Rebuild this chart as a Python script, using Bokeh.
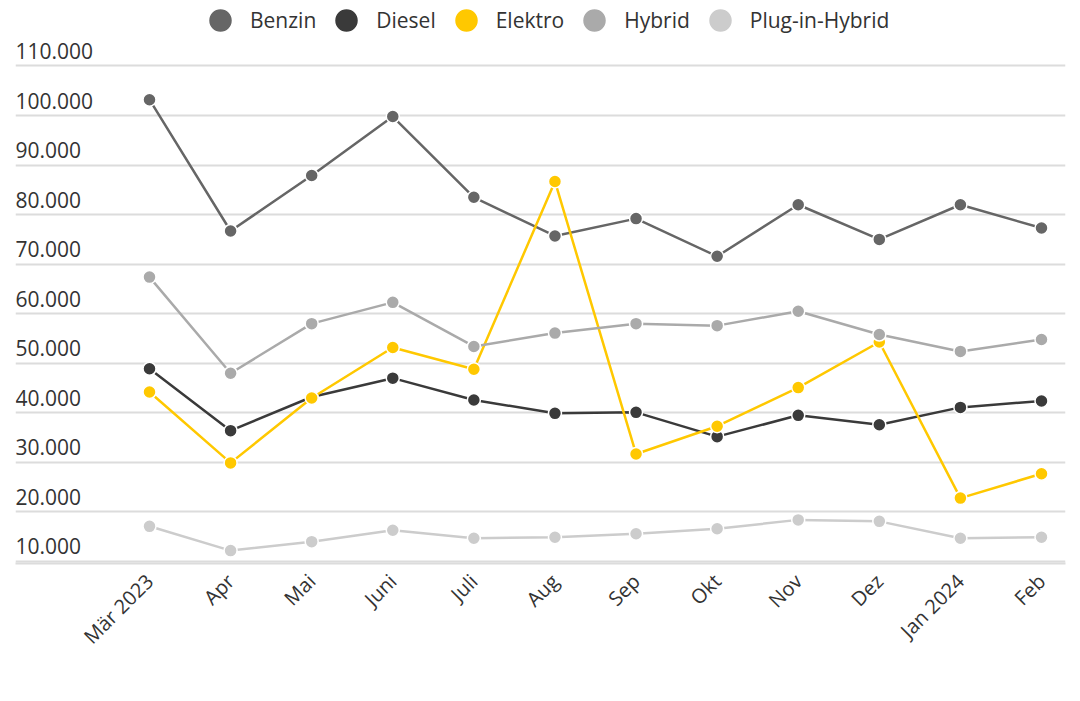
from math import pi
from bokeh.plotting import figure
from bokeh.models import FixedTicker, Label, Legend, LegendItem, Range1d, Grid
from bokeh.embed import file_html
from bokeh.resources import INLINE

# ---- data ----
months = ["Mär 2023", "Apr", "Mai", "Juni", "Juli", "Aug", "Sep", "Okt",
          "Nov", "Dez", "Jan 2024", "Feb"]
benzin = [103200, 76700, 87900, 99800, 83500, 75700, 79200, 71600, 82000, 75000, 82000, 77300]
diesel = [48900, 36400, 43200, 47000, 42600, 39900, 40100, 35200, 39500, 37600, 41100, 42400]
elektro = [44200, 29900, 43000, 53200, 48800, 86700, 31700, 37300, 45100, 54300, 22800, 27700]
hybrid = [67400, 48000, 58000, 62300, 53400, 56100, 58000, 57600, 60500, 55800, 52400, 54800]
plugin_hybrid = [17100, 12200, 14000, 16300, 14700, 14900, 15600, 16600, 18400, 18100, 14700, 14900]

series_names = ["Benzin", "Diesel", "Elektro", "Hybrid", "Plug-in-Hybrid"]
series_values = [benzin, diesel, elektro, hybrid, plugin_hybrid]
series_colors = ["#666666", "#3a3a3a", "#ffc800", "#aaaaaa", "#cccccc"]

y_ticks = [10000, 20000, 30000, 40000, 50000, 60000, 70000, 80000, 90000, 100000, 110000]
y_tick_labels = ["10.000", "20.000", "30.000", "40.000", "50.000", "60.000",
                 "70.000", "80.000", "90.000", "100.000", "110.000"]

FONT = "Open Sans"
TEXT = "#333333"

x_idx = list(range(len(months)))

p = figure(width=1072, height=692, output_backend="svg", toolbar_location=None,
           title=None, x_range=Range1d(-1.6525, 11.296), y_range=Range1d(9596, 121604),
           y_axis_location=None, min_border_left=15, min_border_right=7,
           min_border_top=8, min_border_bottom=129, outline_line_color=None,
           background_fill_color="white", border_fill_color="white")

for g in p.grid:
    g.visible = False
p.add_layout(Grid(dimension=1, ticker=FixedTicker(ticks=y_ticks),
                  grid_line_color="#dcdcdc", grid_line_width=2))

ax = p.xaxis[0]
ax.ticker = FixedTicker(ticks=x_idx)
ax.major_label_overrides = {i: m for i, m in zip(x_idx, months)}
ax.major_label_orientation = pi / 4
ax.major_tick_line_color = None
ax.minor_tick_line_color = None
ax.axis_line_color = "#dcdcdc"
ax.axis_line_width = 2
ax.major_label_text_font = FONT
ax.major_label_text_font_size = "20px"
ax.major_label_text_color = TEXT
ax.major_label_standoff = 8

items = []
for name, vals, col in zip(series_names, series_values, series_colors):
    p.line(x_idx, vals, line_color=col, line_width=2.5)
    r = p.scatter(x_idx, vals, size=13, fill_color=col, line_color="white", line_width=1.5)
    items.append(LegendItem(label=name, renderers=[r]))

legend = Legend(items=items, orientation="horizontal", location=(175, 513),
                glyph_width=60, glyph_height=60, label_standoff=-1, spacing=-2,
                padding=0, margin=0, border_line_color=None, background_fill_alpha=0,
                label_text_font=FONT, label_text_font_size="21px", label_text_color=TEXT)
p.add_layout(legend)

for v, t in zip(y_ticks, y_tick_labels):
    p.add_layout(Label(x=0, y=v, x_units="screen", y_units="data", text=t,
                       text_font=FONT, text_font_size="21px", text_color=TEXT,
                       text_baseline="bottom", y_offset=7))

open("out.html", "w").write(file_html(p, INLINE))
